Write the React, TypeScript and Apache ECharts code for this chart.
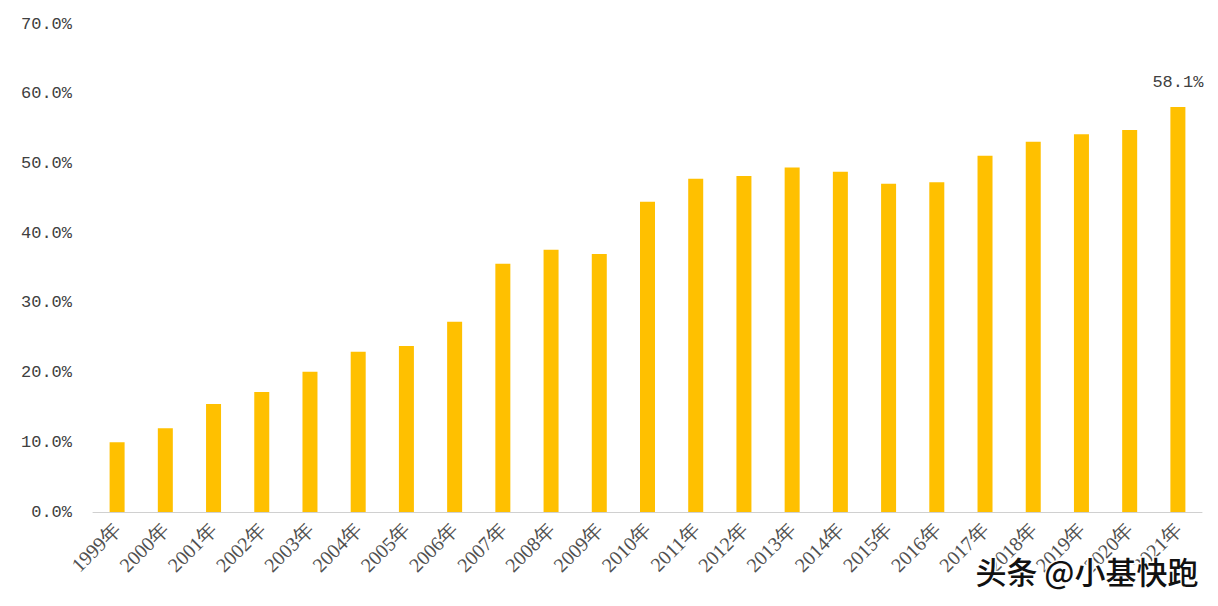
import React, { useEffect, useRef } from "react";
import * as echarts from "echarts";

const years = ["1999年","2000年","2001年","2002年","2003年","2004年","2005年","2006年","2007年","2008年","2009年","2010年","2011年","2012年","2013年","2014年","2015年","2016年","2017年","2018年","2019年","2020年","2021年"];
const values = [10.0,12.0,15.5,17.2,20.1,23.0,23.8,27.3,35.6,37.6,37.0,44.5,47.8,48.2,49.4,48.8,47.1,47.3,51.1,53.1,54.2,54.8,58.1];
const yTicks = [0, 10, 20, 30, 40, 50, 60, 70];
const labelledIndex = 22;

export default function App() {
  const ref = useRef<HTMLDivElement>(null);
  useEffect(() => {
    if (!ref.current) return;
    const chart = echarts.init(ref.current, undefined, { renderer: "svg" });
    chart.setOption({
      animation: false,
      backgroundColor: "#ffffff",
      grid: { left: 93, right: 16, top: 24, bottom: 94, containLabel: false },
      xAxis: {
        type: "category",
        data: years,
        axisLine: { show: true, lineStyle: { color: "#d0d0d0", width: 1 } },
        axisTick: { show: false },
        axisLabel: {
          rotate: 45,
          interval: 0,
          margin: 14,
          color: "#505050",
          fontFamily: "Liberation Serif",
          fontSize: 20,
        },
      },
      yAxis: {
        type: "value",
        min: yTicks[0],
        max: yTicks[yTicks.length - 1],
        interval: 10,
        splitLine: { show: false },
        axisLine: { show: false },
        axisTick: { show: false },
        axisLabel: {
          margin: 21,
          color: "#404040",
          fontFamily: "Liberation Mono",
          fontSize: 17,
          formatter: (v: number) => v.toFixed(1) + "%",
        },
      },
      series: [
        {
          type: "bar",
          data: values.map((v, i) =>
            i === labelledIndex
              ? {
                  value: v,
                  label: {
                    show: true,
                    position: "top",
                    distance: 16,
                    color: "#404040",
                    fontFamily: "Liberation Mono",
                    fontSize: 17,
                    formatter: (p: any) => p.value.toFixed(1) + "%",
                  },
                }
              : v
          ),
          barWidth: 15,
          itemStyle: { color: "#FFC000" },
        },
      ],
      graphic: [
        {
          type: "text",
          right: 18,
          top: 553,
          z: 100,
          style: {
            text: "头条 @小基快跑",
            font: "500 31px 'Noto Sans CJK SC'",
            fill: "#111111",
            stroke: "#ffffff",
            lineWidth: 3,
          },
        },
      ],
    });
    return () => chart.dispose();
  }, []);
  return <div ref={ref} style={{ width: 1218, height: 606, position: "absolute", left: 0, top: 0 }} />;
}
